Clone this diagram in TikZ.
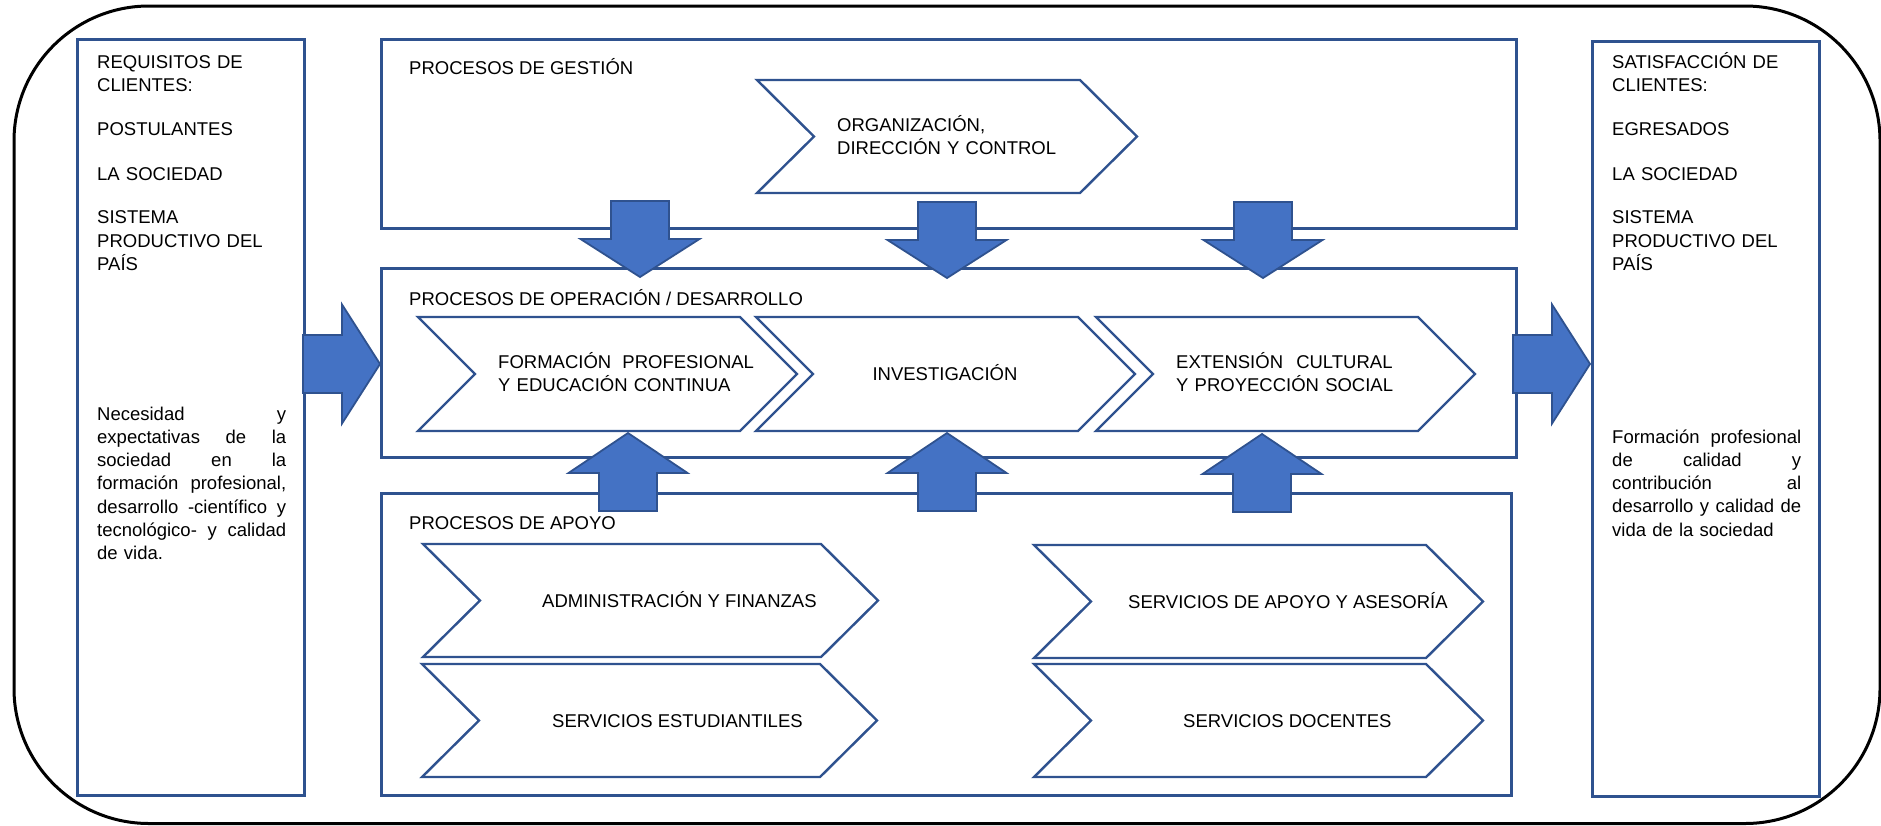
\documentclass[tikz,border=0pt]{standalone}
\usepackage{fontspec}
\setmainfont{Liberation Sans}
\definecolor{bblue}{RGB}{47,82,143}
\definecolor{afill}{RGB}{68,114,196}
\definecolor{adark}{RGB}{47,82,143}
\newcommand\dfont{\fontsize{18.5pt}{23.3pt}\selectfont}
\newcommand\jl[1]{\makebox[189pt][l]{#1}}
\newcommand\chevron[5]{%
  \draw[chev] (#1,#2) -- (#3-#5,#2) -- (#3,{(#2+#4)/2}) -- (#3-#5,#4) -- (#1,#4) -- (#1+#5,{(#2+#4)/2}) -- cycle;}
\newcommand\darrow[2]{%
  \draw[barrow] (#1-29,#2) -- (#1+29,#2) -- (#1+29,#2+38) -- (#1+59.5,#2+38) -- (#1,#2+76) -- (#1-59.5,#2+38) -- (#1-29,#2+38) -- cycle;}
\newcommand\uarrow[2]{%
  \draw[barrow] (#1-29,#2+78) -- (#1+29,#2+78) -- (#1+29,#2+40) -- (#1+59.5,#2+40) -- (#1,#2) -- (#1-59.5,#2+40) -- (#1-29,#2+40) -- cycle;}
\newcommand\rarrow[2]{%
  \draw[barrow] (#1,#2-29) -- (#1+39,#2-29) -- (#1+39,#2-59.5) -- (#1+77,#2) -- (#1+39,#2+59.5) -- (#1+39,#2+29) -- (#1,#2+29) -- cycle;}
\begin{document}
\begin{tikzpicture}[x=1pt,y=-1pt,
  boxn/.style={draw=bblue, line width=2.8pt, inner sep=0pt, anchor=north west},
  chev/.style={draw=bblue, line width=2.4pt, fill=white, line join=miter},
  barrow/.style={draw=adark, fill=afill, line width=1.8pt, line join=miter},
  txt/.style={inner sep=0pt, font=\dfont, anchor=base west},
  para/.style={txt, text width=189pt, align=left}]
\useasboundingbox (0,0) rectangle (1881,825);
% outer frame
\draw[line width=3pt, rounded corners=135pt] (14,6) rectangle (1880,823.5);
% boxes
\node[boxn, minimum width=227pt, minimum height=756pt] (req) at (76,38) {};
\node[boxn, minimum width=227pt, minimum height=755pt] (sat) at (1591,40) {};
\node[boxn, minimum width=1135pt, minimum height=189pt] (gest) at (380,38) {};
\node[boxn, minimum width=1135pt, minimum height=189pt] (oper) at (380,267) {};
\node[boxn, minimum width=1130pt, minimum height=302pt] (apoyo) at (380,492) {};
% chevrons
\chevron{757}{80}{1137}{193}{57}
\chevron{418}{317}{797}{431}{57}
\chevron{756}{317}{1135}{431}{57}
\chevron{1096}{317}{1475}{431}{57}
\chevron{423}{544}{878}{657}{57}
\chevron{422}{664}{877}{777}{57}
\chevron{1034}{545}{1483}{658}{57}
\chevron{1034}{664}{1483}{777}{57}
% block arrows
\darrow{640}{201}
\darrow{947}{202}
\darrow{1263}{202}
\uarrow{628}{433}
\uarrow{947}{433}
\uarrow{1262}{434}
\rarrow{303}{364}
\rarrow{1513}{364}
% texts
\node[para] (reqtxt) at (97,68) {REQUISITOS DE\\CLIENTES:\\[20.7pt]POSTULANTES\\[21.5pt]LA SOCIEDAD\\[20.5pt]SISTEMA\\PRODUCTIVO DEL\\PAÍS};
\node[para] (reqpar) at (97,420) {\jl{Necesidad\hfill y}\\\jl{expectativas\hfill de\hfill la}\\\jl{sociedad\hfill en\hfill la}\\\jl{formación\hfill profesional,}\\\jl{desarrollo\hfill -científico\hfill y}\\\jl{tecnológico-\hfill y\hfill calidad}\\de vida.};
\node[para] (sattxt) at (1612,68) {SATISFACCIÓN DE\\CLIENTES:\\[20.7pt]EGRESADOS\\[21.5pt]LA SOCIEDAD\\[20.5pt]SISTEMA\\PRODUCTIVO DEL\\PAÍS};
\node[para] (satpar) at (1612,443) {\jl{Formación\hfill profesional}\\\jl{de\hfill calidad\hfill y}\\\jl{contribución\hfill al}\\\jl{desarrollo\hfill y\hfill calidad\hfill de}\\vida de la sociedad};
\node[txt] (tgest) at (409,74) {PROCESOS DE GESTIÓN};
\node[txt] (toper) at (409,305) {PROCESOS DE OPERACIÓN / DESARROLLO};
\node[txt] (tapoyo) at (409,529) {PROCESOS DE APOYO};
\node[txt, text width=260pt, align=left] (torg) at (837,131) {ORGANIZACIÓN,\\DIRECCIÓN Y CONTROL};
\node[txt, text width=260pt, align=left] (tform) at (498,368) {FORMACIÓN\hspace{5pt} PROFESIONAL\\Y EDUCACIÓN CONTINUA};
\node[txt, anchor=base] (tinv) at (945,380) {INVESTIGACIÓN};
\node[txt, text width=260pt, align=left] (text) at (1176,368) {EXTENSIÓN\hspace{7pt} CULTURAL\\Y PROYECCIÓN SOCIAL};
\node[txt] (tadm) at (542,607) {ADMINISTRACIÓN Y FINANZAS};
\node[txt] (test) at (552,727) {SERVICIOS ESTUDIANTILES};
\node[txt] (tase) at (1128,608) {SERVICIOS DE APOYO Y ASESORÍA};
\node[txt] (tdoc) at (1183,727) {SERVICIOS DOCENTES};
\end{tikzpicture}
\end{document}
